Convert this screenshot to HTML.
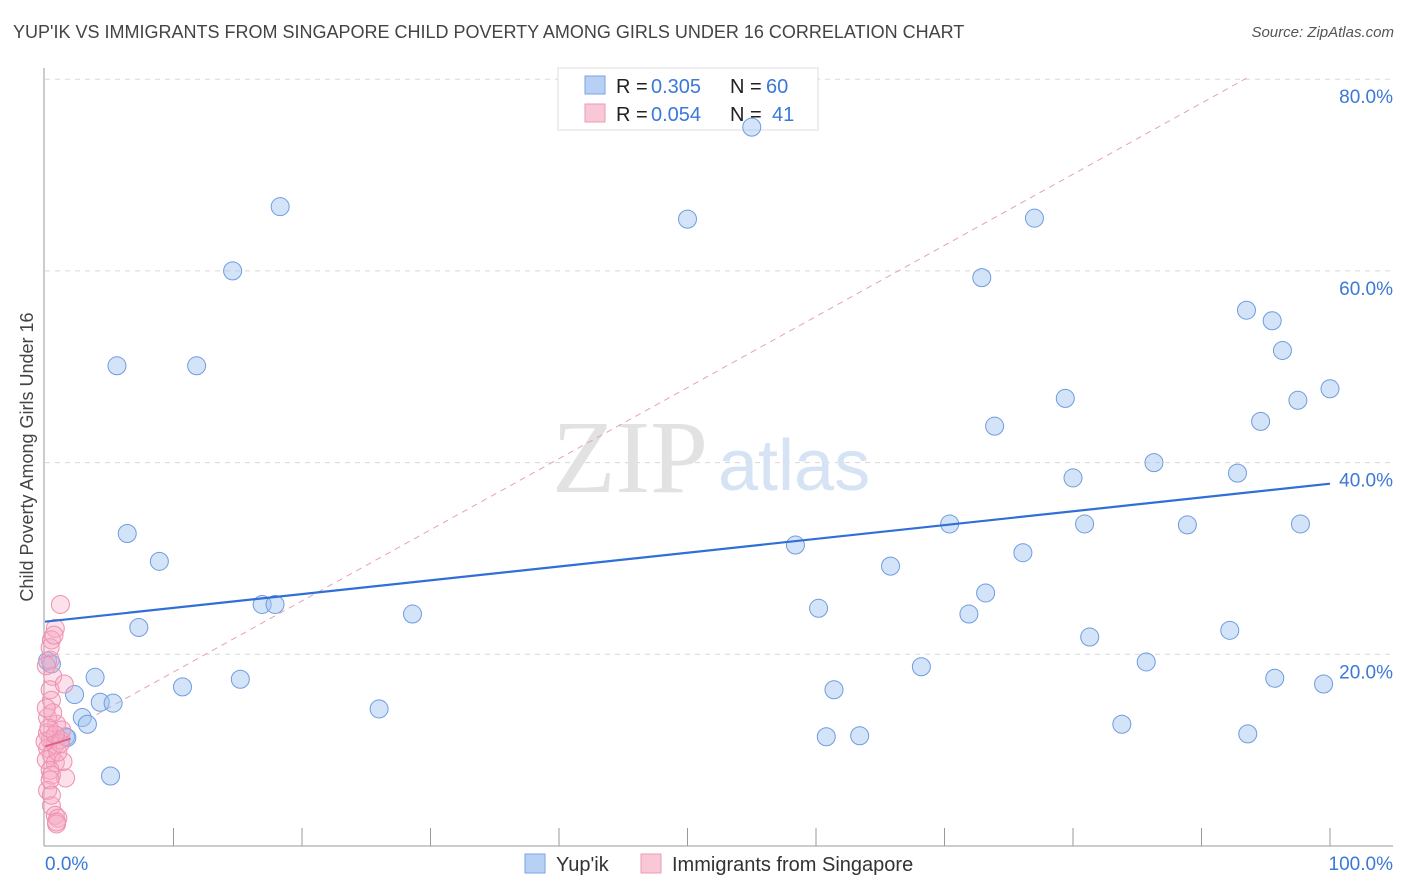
<!DOCTYPE html>
<html><head><meta charset="utf-8"><style>
body{margin:0;background:#fff;font-family:"Liberation Sans",sans-serif;}
#wrap{position:relative;width:1406px;height:892px;overflow:hidden;}
.t{position:absolute;white-space:nowrap;}
</style></head><body><div id="wrap">
<div class="t" style="left:13px;top:22px;font-size:18px;color:#444;">YUP'IK VS IMMIGRANTS FROM SINGAPORE CHILD POVERTY AMONG GIRLS UNDER 16 CORRELATION CHART</div>
<div class="t" style="right:12px;top:24px;font-size:15px;color:#555;font-style:italic;">Source: ZipAtlas.com</div>
<svg id="svg" width="1406" height="892" style="position:absolute;left:0;top:0"></svg>
</div>
<script>
const xTicks=[0,10,20,30,40,50,60,70,80,90,100];
const yTicks=[20,40,60,80];
const blueX=[55.0,18.3,50.0,77.0,14.6,72.9,5.6,11.8,93.5,95.5,96.3,100,79.4,97.5,73.9,94.6,86.3,80.0,92.8,6.4,70.4,80.9,88.9,97.7,8.9,58.4,76.1,65.8,73.2,16.9,17.9,60.2,28.6,71.9,7.3,81.3,92.2,0.2,68.2,85.7,3.9,15.2,10.7,61.4,95.7,99.5,2.3,4.3,5.3,26.0,2.9,3.3,1.6,60.8,63.4,83.8,93.6,5.1,1.7,0.5];
const blueY=[75.0,66.7,65.4,65.5,60.0,59.3,50.1,50.1,55.9,54.8,51.7,47.7,46.7,46.5,43.8,44.3,40.0,38.4,38.9,32.6,33.6,33.6,33.5,33.6,29.7,31.4,30.6,29.2,26.4,25.2,25.2,24.8,24.2,24.2,22.8,21.8,22.5,19.3,18.7,19.2,17.6,17.4,16.6,16.3,17.5,16.9,15.8,15.0,14.9,14.3,13.4,12.7,11.4,11.4,11.5,12.7,11.7,7.3,11.3,19.0];
const pinkX=[1.2,0.8,0.5,0.4,0.6,0.4,1.5,0.5,0.9,0.2,0.4,0.8,1.2,0.2,0.5,0.1,0.8,1.4,0.4,1.6,0.5,0.2,0.5,0.8,1.0,0.9,0.2,1.3,0.4,0.1,0.6,1.0,0.0,1.2,0.4,0.1,0.8,0.3,0.5,0.9,0.7];
const pinkY=[25.2,22.7,21.5,19.4,17.7,16.3,16.9,15.2,12.7,11.8,11.1,10.6,11.1,10.2,9.5,9.0,8.7,8.8,7.9,7.1,7.4,5.8,4.2,3.2,2.9,2.3,13.4,12.1,20.7,18.8,13.9,9.8,10.9,10.7,6.9,14.4,11.6,12.3,5.3,2.5,22.0];
const blueTrend=[23.4,37.8];
const pinkTrend=[[4,13.7],[93.5,80.1]];
const X=v=>45+v*12.85, Y=v=>846-v*9.585;
const svg=document.getElementById('svg');const NS='http://www.w3.org/2000/svg';
function mk(tag,a,name){const e=document.createElementNS(NS,tag);for(const k in a)e.setAttribute(k,a[k]);


svg.appendChild(e);return e;}
yTicks.forEach(v=>{mk('line',{x1:45,x2:1393,y1:Y(v),y2:Y(v),stroke:'#d8d8d8','stroke-dasharray':'5,5'},'gridline');
const t=mk('text',{x:1393,y:Y(v)+24,'text-anchor':'end','font-size':19,fill:'#3b78d8','font-family':'Liberation Sans'},'y-tick-label');t.textContent=v.toFixed(1)+'%';});
mk('line',{x1:44,x2:44,y1:68,y2:846,stroke:'#999'},'y-axis');
mk('line',{x1:44,x2:1393,y1:846,y2:846,stroke:'#999'},'x-axis');
xTicks.forEach(v=>{if(v>0)mk('line',{x1:X(v),x2:X(v),y1:828,y2:846,stroke:'#999'},'x-tick');});
let t=mk('text',{x:45,y:870,'font-size':19,fill:'#3b78d8','font-family':'Liberation Sans'},'x-min-label');t.textContent='0.0%';
t=mk('text',{x:1393,y:870,'text-anchor':'end','font-size':19,fill:'#3b78d8','font-family':'Liberation Sans'},'x-max-label');t.textContent='100.0%';
t=mk('text',{x:33,y:457,'text-anchor':'middle','font-size':18,fill:'#444','font-family':'Liberation Sans',transform:'rotate(-90 33 457)'},'y-axis-title');t.textContent='Child Poverty Among Girls Under 16';
t=mk('text',{x:552,y:492,'font-size':104,fill:'#e2e2e2','font-family':'Liberation Serif'},'watermark-zip');t.textContent='ZIP';
t=mk('text',{x:718,y:490,'font-size':72,fill:'#d6e3f5','font-family':'Liberation Sans'},'watermark-atlas');t.textContent='atlas';
// legend (drawn before points)
mk('rect',{x:558,y:68,width:260,height:62,fill:'#fff',stroke:'#ddd'},'legend-box');
mk('rect',{x:585,y:76,width:20,height:18,fill:'#b8d0f3',stroke:'#7aa3e3'},'legend-swatch-blue');
mk('rect',{x:585,y:104,width:20,height:18,fill:'#f9c8d6',stroke:'#ef9ab5'},'legend-swatch-pink');
function lt(x,y,s,c,n){const e=mk('text',{x:x,y:y,'font-size':20,fill:c,'font-family':'Liberation Sans'},n);e.textContent=s;}
lt(616,93,'R =','#222','legend-r-label');lt(651,93,'0.305','#3b78d8','legend-r-blue');lt(730,93,'N =','#222','legend-n-label');lt(766,93,'60','#3b78d8','legend-n-blue');
lt(616,121,'R =','#222','legend-r-label');lt(651,121,'0.054','#3b78d8','legend-r-pink');lt(730,121,'N =','#222','legend-n-label');lt(772,121,'41','#3b78d8','legend-n-pink');
mk('line',{x1:X(pinkTrend[0][0]),y1:Y(pinkTrend[0][1]),x2:X(pinkTrend[1][0]),y2:Y(pinkTrend[1][1]),stroke:'#e8a0b4','stroke-dasharray':'6,5','stroke-width':1},'pink-trend-line');
blueX.forEach((x,i)=>mk('circle',{cx:X(x),cy:Y(blueY[i]),r:9,fill:'rgba(160,195,240,0.45)',stroke:'#6f9be0','stroke-width':1},'blue-point'));
pinkX.forEach((x,i)=>mk('circle',{cx:X(x),cy:Y(pinkY[i]),r:9,fill:'rgba(245,170,195,0.35)',stroke:'#ee8fb0','stroke-width':1},'pink-point'));
mk('line',{x1:X(0),y1:Y(blueTrend[0]),x2:X(100),y2:Y(blueTrend[1]),stroke:'#2f6fd6','stroke-width':2.2},'blue-trend-line');
mk('line',{x1:X(0),y1:Y(10.4),x2:X(2),y2:Y(11.2),stroke:'#e0608a','stroke-width':2},'pink-trend-solid');
// bottom legend
mk('rect',{x:525,y:854,width:20,height:19,fill:'#b8d0f3',stroke:'#7aa3e3'},'bottom-legend-swatch-yupik');
lt(556,871,"Yup'ik",'#333','bottom-legend-yupik');
mk('rect',{x:641,y:854,width:20,height:19,fill:'#f9c8d6',stroke:'#ef9ab5'},'bottom-legend-swatch-singapore');
lt(672,871,'Immigrants from Singapore','#333','bottom-legend-singapore');
</script></body></html>
